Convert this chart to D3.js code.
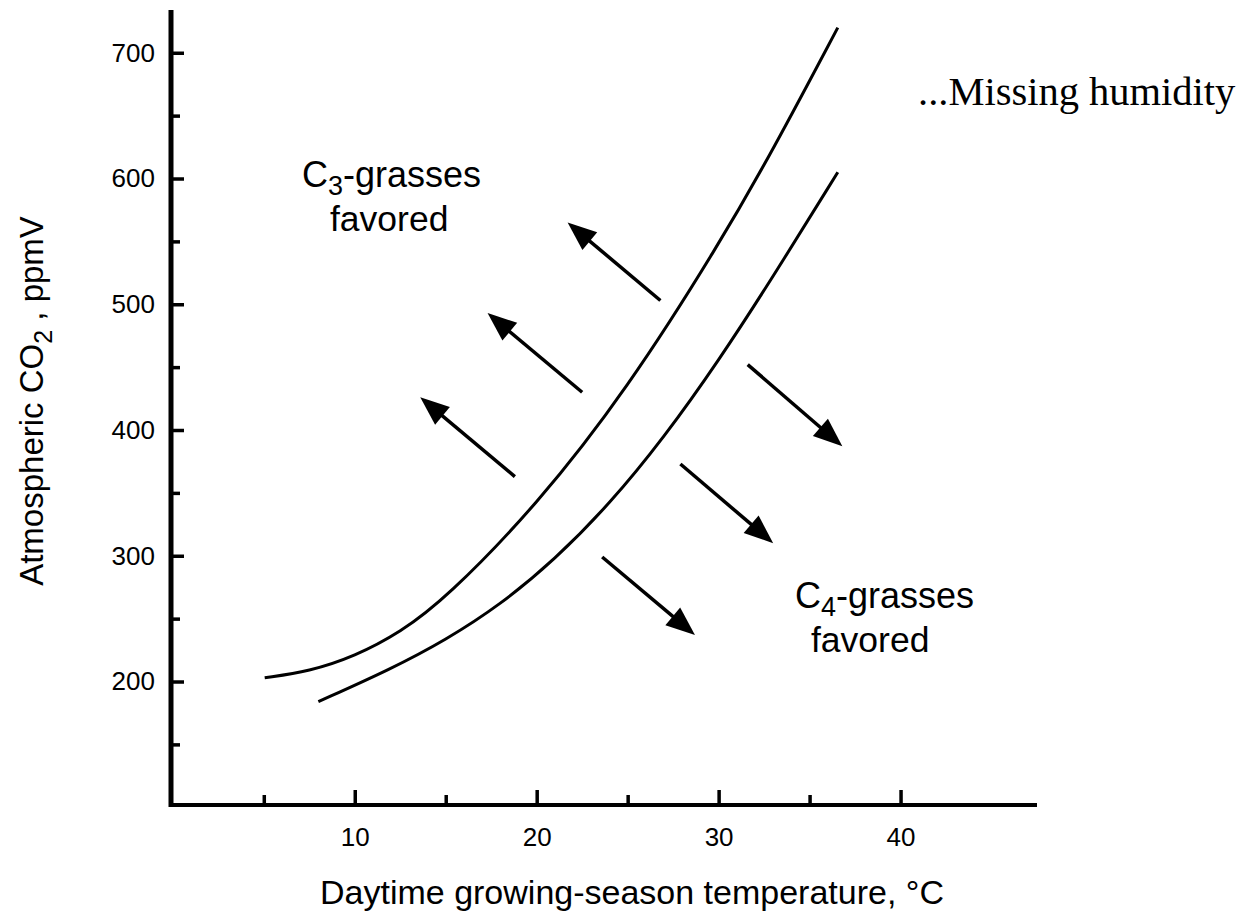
<!DOCTYPE html>
<html>
<head>
<meta charset="utf-8">
<script src="https://cdn.jsdelivr.net/npm/d3@7"></script>
<style>
  html, body { margin: 0; padding: 0; background: #fff; }
  svg { display: block; }
  text { font-family: "Liberation Sans", Arial, Helvetica, sans-serif; fill: #000; }
</style>
</head>
<body>
<svg id="chart" width="1254" height="914"></svg>
<script>
// Axis ticks
const xMajorTicks = [10, 20, 30, 40];
const xMinorTicks = [5, 15, 25, 35];
const yMajorTicks = [200, 300, 400, 500, 600, 700];
const yMinorTicks = [150, 250, 350, 450, 550, 650];

// Boundary where C3 and C4 grasses are equally favored (temperature °C, CO2 ppmV)
const upperTemp = [5.05, 7.5, 10, 12.5, 15, 20, 25, 30, 33, 36.55];
const upperCO2  = [203, 208, 220, 239, 266, 340, 433, 547, 623, 720];
const lowerTemp = [8, 12, 15, 18, 21, 24, 27, 30, 33, 36.55];
const lowerCO2  = [184, 210, 233, 261, 297, 341, 394, 455, 522, 605];

// Direction arrows: tail and tip, in data units
const arrowTailTemp = [26.8, 22.5, 18.8, 31.6, 27.9, 23.6];
const arrowTailCO2  = [503, 430, 363, 452, 373, 299];
const arrowTipTemp  = [21.7, 17.3, 13.6, 36.8, 33.0, 28.7];
const arrowTipCO2   = [565, 493, 426, 387, 310, 237];

const svg = d3.select("#chart");

const x = d3.scaleLinear().domain([-0.1, 47.5]).range([171, 1037]);
const y = d3.scaleLinear().domain([101, 734]).range([806, 10]);

// Ticks (pointing inward), labels below / left
const gx = svg.append("g").attr("transform", `translate(0,${y(101) - 1})`);
gx.call(d3.axisBottom(x).tickValues(xMajorTicks).tickSize(-15).tickPadding(23).tickFormat(d3.format("d")));
const gxm = svg.append("g").attr("transform", `translate(0,${y(101) - 1})`);
gxm.call(d3.axisBottom(x).tickValues(xMinorTicks).tickSize(-10).tickFormat(""));

const gy = svg.append("g").attr("transform", `translate(${x(-0.1)},0)`);
gy.call(d3.axisLeft(y).tickValues(yMajorTicks).tickSize(-13).tickPadding(16).tickFormat(d3.format("d")));
const gym = svg.append("g").attr("transform", `translate(${x(-0.1)},0)`);
gym.call(d3.axisLeft(y).tickValues(yMinorTicks).tickSize(-9).tickFormat(""));

svg.selectAll(".domain").remove();
svg.selectAll(".tick line").attr("stroke", "#000").attr("stroke-width", 3.5);
svg.selectAll(".tick text")
  .style("font-family", "'Liberation Sans', Arial, sans-serif")
  .style("font-size", "26px")
  .attr("fill", "#000");

// Axis lines
svg.append("line")
  .attr("x1", x(-0.1)).attr("x2", x(-0.1))
  .attr("y1", y(734)).attr("y2", y(101) + 1)
  .attr("stroke", "#000").attr("stroke-width", 5);
svg.append("line")
  .attr("x1", x(-0.1) - 2).attr("x2", x(47.5))
  .attr("y1", y(101) - 1).attr("y2", y(101) - 1)
  .attr("stroke", "#000").attr("stroke-width", 4);

// Boundary curves
const line = d3.line()
  .x(d => x(d[0]))
  .y(d => y(d[1]))
  .curve(d3.curveBasis);

const upper = upperTemp.map((t, i) => [t, upperCO2[i]]);
const lower = lowerTemp.map((t, i) => [t, lowerCO2[i]]);

svg.append("path").datum(upper).attr("d", line)
  .attr("fill", "none").attr("stroke", "#000").attr("stroke-width", 3);
svg.append("path").datum(lower).attr("d", line)
  .attr("fill", "none").attr("stroke", "#000").attr("stroke-width", 3);

// Arrows
const headLen = 29, headHalf = 11.5;
arrowTailTemp.forEach((t, i) => {
  const x0 = x(t), y0 = y(arrowTailCO2[i]);
  const x1 = x(arrowTipTemp[i]), y1 = y(arrowTipCO2[i]);
  const dx = x1 - x0, dy = y1 - y0, len = Math.hypot(dx, dy);
  const ux = dx / len, uy = dy / len;
  const bx = x1 - ux * headLen, by = y1 - uy * headLen;
  svg.append("line")
    .attr("x1", x0).attr("y1", y0)
    .attr("x2", bx + ux * 4).attr("y2", by + uy * 4)
    .attr("stroke", "#000").attr("stroke-width", 3.5);
  svg.append("path")
    .attr("d", `M${x1},${y1}L${bx - uy * headHalf},${by + ux * headHalf}L${bx + uy * headHalf},${by - ux * headHalf}Z`)
    .attr("fill", "#000");
});

// Region labels
function subLabel(px, py, main, sub, rest) {
  const t = svg.append("text").attr("x", px).attr("y", py).style("font-size", "36px");
  t.append("tspan").text(main);
  t.append("tspan").attr("dy", 8).style("font-size", "27px").text(sub);
  t.append("tspan").attr("dy", -8).text(rest);
  return t;
}
subLabel(302, 187, "C", "3", "-grasses");
svg.append("text").attr("x", 330).attr("y", 231).style("font-size", "35.5px").text("favored");
subLabel(795, 608, "C", "4", "-grasses");
svg.append("text").attr("x", 811).attr("y", 652).style("font-size", "35.5px").text("favored");

// Axis titles
svg.append("text")
  .attr("x", 632).attr("y", 904)
  .attr("text-anchor", "middle")
  .style("font-size", "34px")
  .text("Daytime growing-season temperature, °C");

const yt = svg.append("text")
  .attr("transform", "translate(43,401) rotate(-90)")
  .attr("text-anchor", "middle")
  .style("font-size", "33px");
yt.append("tspan").text("Atmospheric CO");
yt.append("tspan").attr("dy", 9).style("font-size", "25px").text("2");
yt.append("tspan").attr("dy", -9).text(" , ppmV");

// Note
svg.append("text")
  .attr("x", 918).attr("y", 105)
  .style("font-family", "'Liberation Serif', 'Times New Roman', serif")
  .style("font-size", "40.5px")
  .text("...Missing humidity");
</script>
</body>
</html>
